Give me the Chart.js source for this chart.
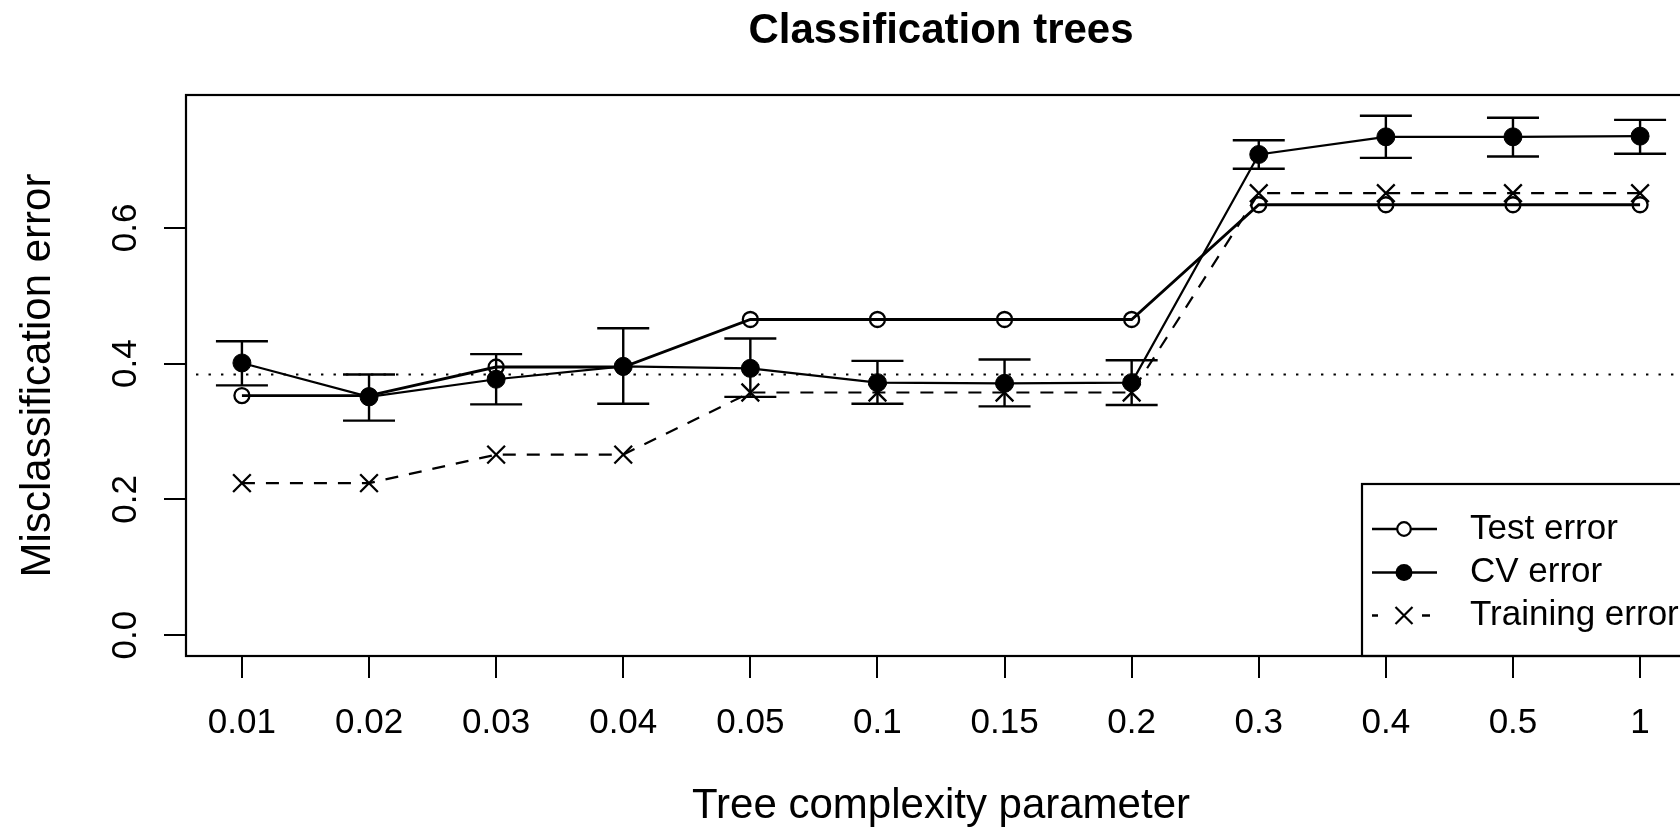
<!DOCTYPE html>
<html>
<head>
<meta charset="utf-8">
<title>Classification trees</title>
<script src="https://cdn.jsdelivr.net/npm/chart.js@4/dist/chart.umd.min.js"></script>
<style>
  html, body { margin: 0; padding: 0; background: #fff; overflow: hidden; }
  canvas { display: block; }
</style>
</head>
<body>
<canvas id="chart" width="1720" height="828" style="width:1720px;height:828px"></canvas>
<script>
// Complexity parameter values along the x axis
const cpLabels = ["0.01", "0.02", "0.03", "0.04", "0.05", "0.1", "0.15", "0.2", "0.3", "0.4", "0.5", "1"];

// Error rates for each complexity parameter
const testError  = [0.353, 0.353, 0.395, 0.395, 0.465, 0.465, 0.465, 0.465, 0.634, 0.634, 0.634, 0.634];
const cvError    = [0.401, 0.351, 0.377, 0.396, 0.393, 0.372, 0.371, 0.372, 0.708, 0.734, 0.734, 0.735];
const cvUpper    = [0.433, 0.384, 0.414, 0.452, 0.437, 0.404, 0.406, 0.405, 0.729, 0.765, 0.762, 0.759];
const cvLower    = [0.368, 0.316, 0.340, 0.341, 0.351, 0.341, 0.337, 0.339, 0.687, 0.703, 0.705, 0.709];
const trainError = [0.224, 0.224, 0.266, 0.266, 0.3575, 0.3575, 0.3575, 0.3575, 0.651, 0.651, 0.651, 0.651];

// One-standard-error threshold (dotted reference line)
const seThreshold = 0.384;

// Y axis ticks
const yTickValues = [0, 0.2, 0.4, 0.6];
const yTickLabels = ["0.0", "0.2", "0.4", "0.6"];

const seriesNames = ["Test error", "CV error", "Training error"];

const FONT = "'Liberation Sans', Arial, Helvetica, sans-serif";
const toPoints = arr => arr.map((v, i) => ({ x: i + 1, y: v }));

const decorations = {
  id: 'decorations',
  beforeDatasetsDraw(chart) {
    const { ctx, chartArea: a, scales: { y } } = chart;
    ctx.save();
    ctx.beginPath();
    ctx.rect(a.left, a.top, a.right - a.left, a.bottom - a.top);
    ctx.clip();
    ctx.strokeStyle = '#000';
    ctx.lineWidth = 2.2;
    ctx.setLineDash([2.4, 10.1]);
    const yy = y.getPixelForValue(seThreshold);
    ctx.beginPath();
    ctx.moveTo(a.left + 10, yy);
    ctx.lineTo(a.right, yy);
    ctx.stroke();
    ctx.restore();
  },
  afterDatasetsDraw(chart) {
    const { ctx, scales: { x, y } } = chart;
    ctx.save();
    ctx.strokeStyle = '#000';
    ctx.lineWidth = 2.4;
    const cap = 26;
    cvError.forEach((_, i) => {
      const px = x.getPixelForValue(i + 1);
      const top = y.getPixelForValue(cvUpper[i]);
      const bot = y.getPixelForValue(cvLower[i]);
      ctx.beginPath();
      ctx.moveTo(px, top); ctx.lineTo(px, bot);
      ctx.moveTo(px - cap, top); ctx.lineTo(px + cap, top);
      ctx.moveTo(px - cap, bot); ctx.lineTo(px + cap, bot);
      ctx.stroke();
    });
    ctx.restore();
  },
  afterDraw(chart) {
    const { ctx, chartArea: a, scales: { y } } = chart;
    ctx.save();
    ctx.fillStyle = '#000';
    ctx.strokeStyle = '#000';

    // Title
    ctx.font = `bold 42px ${FONT}`;
    ctx.textAlign = 'center';
    ctx.textBaseline = 'middle';
    ctx.fillText('Classification trees', (a.left + a.right) / 2, 31);

    // Y tick labels, written parallel to the axis
    ctx.font = `35px ${FONT}`;
    yTickValues.forEach((v, i) => {
      ctx.save();
      ctx.translate(a.left - 60, y.getPixelForValue(v));
      ctx.rotate(-Math.PI / 2);
      ctx.fillText(yTickLabels[i], 0, 0);
      ctx.restore();
    });

    // Legend in the bottom-right corner
    const lw = 334, lh = 172;
    const lx = a.right - lw, ly = a.bottom - lh;
    ctx.fillStyle = '#fff';
    ctx.fillRect(lx, ly, lw, lh);
    ctx.lineWidth = 2.2;
    ctx.strokeRect(lx, ly, lw, lh);
    ctx.fillStyle = '#000';
    const rows = [ly + 45, ly + 88.5, ly + 131.5];
    const x1 = lx + 10, x2 = lx + 75, sx = lx + 42;
    ctx.font = `35px ${FONT}`;
    ctx.textAlign = 'left';
    ctx.textBaseline = 'middle';
    rows.forEach((ry, i) => {
      ctx.lineWidth = 2.4;
      if (i === 2) {
        ctx.setLineDash([6, 44, 8, 100]);
      } else {
        ctx.setLineDash([]);
      }
      ctx.beginPath();
      ctx.moveTo(x1, ry); ctx.lineTo(x2, ry);
      ctx.stroke();
      ctx.setLineDash([]);
      if (i === 0) {
        ctx.fillStyle = '#fff';
        ctx.lineWidth = 2.2;
        ctx.beginPath(); ctx.arc(sx, ry, 6.8, 0, Math.PI * 2); ctx.fill(); ctx.stroke();
        ctx.fillStyle = '#000';
      } else if (i === 1) {
        ctx.beginPath(); ctx.arc(sx, ry, 8.5, 0, Math.PI * 2); ctx.fill();
      } else {
        const d = 8.5;
        ctx.lineWidth = 2.2;
        ctx.beginPath();
        ctx.moveTo(sx - d, ry - d); ctx.lineTo(sx + d, ry + d);
        ctx.moveTo(sx - d, ry + d); ctx.lineTo(sx + d, ry - d);
        ctx.stroke();
      }
      ctx.fillText(seriesNames[i], lx + 108, ry);
    });

    // Plot frame
    ctx.lineWidth = 2.2;
    ctx.strokeRect(a.left, a.top, a.right - a.left, a.bottom - a.top);
    ctx.restore();
  }
};

new Chart(document.getElementById('chart'), {
  type: 'line',
  data: {
    datasets: [
      {
        label: seriesNames[1],
        data: toPoints(cvError),
        borderColor: '#000',
        borderWidth: 2.2,
        tension: 0,
        pointStyle: 'circle',
        pointRadius: 9,
        pointBorderWidth: 1,
        pointBorderColor: '#000',
        pointBackgroundColor: '#000'
      },
      {
        label: seriesNames[0],
        data: toPoints(testError),
        borderColor: '#000',
        borderWidth: 2.8,
        tension: 0,
        pointStyle: 'circle',
        pointRadius: 7.5,
        pointBorderWidth: 2.3,
        pointBorderColor: '#000',
        pointBackgroundColor: 'rgba(0,0,0,0)'
      },
      {
        label: seriesNames[2],
        data: toPoints(trainError),
        borderColor: '#000',
        borderWidth: 2.2,
        borderDash: [13, 11],
        tension: 0,
        pointStyle: 'crossRot',
        pointRadius: 12.5,
        pointBorderWidth: 2.3,
        pointBorderColor: '#000'
      }
    ]
  },
  options: {
    responsive: false,
    animation: false,
    devicePixelRatio: 1,
    layout: { padding: { top: 95, right: 24, bottom: 0, left: 0 } },
    plugins: {
      legend: { display: false },
      tooltip: { enabled: false },
      title: { display: false }
    },
    scales: {
      x: {
        type: 'linear',
        min: 0.56,
        max: 12.44,
        afterBuildTicks: s => { s.ticks = cpLabels.map((_, i) => ({ value: i + 1 })); },
        afterFit: s => { s.height = 172; },
        border: { display: false },
        grid: { display: true, drawOnChartArea: false, drawTicks: true, tickLength: 22, color: '#000', lineWidth: 2 },
        ticks: {
          autoSkip: false,
          maxRotation: 0,
          minRotation: 0,
          padding: 24,
          color: '#000',
          font: { family: FONT, size: 35 },
          callback: v => cpLabels[Math.round(v) - 1]
        },
        title: {
          display: true,
          text: 'Tree complexity parameter',
          color: '#000',
          font: { family: FONT, size: 42, lineHeight: 1 },
          padding: { top: 0, bottom: 1 }
        }
      },
      y: {
        type: 'linear',
        min: -0.0306,
        max: 0.7956,
        afterBuildTicks: s => { s.ticks = yTickValues.map(v => ({ value: v })); },
        afterFit: s => { s.width = 186; },
        border: { display: false },
        grid: { display: true, drawOnChartArea: false, drawTicks: true, tickLength: 22, color: '#000', lineWidth: 2 },
        ticks: { display: false },
        title: {
          display: true,
          text: 'Misclassification error',
          color: '#000',
          font: { family: FONT, size: 42, lineHeight: 1 },
          padding: { top: 17, bottom: 0 }
        }
      }
    }
  },
  plugins: [decorations]
});
</script>
</body>
</html>
